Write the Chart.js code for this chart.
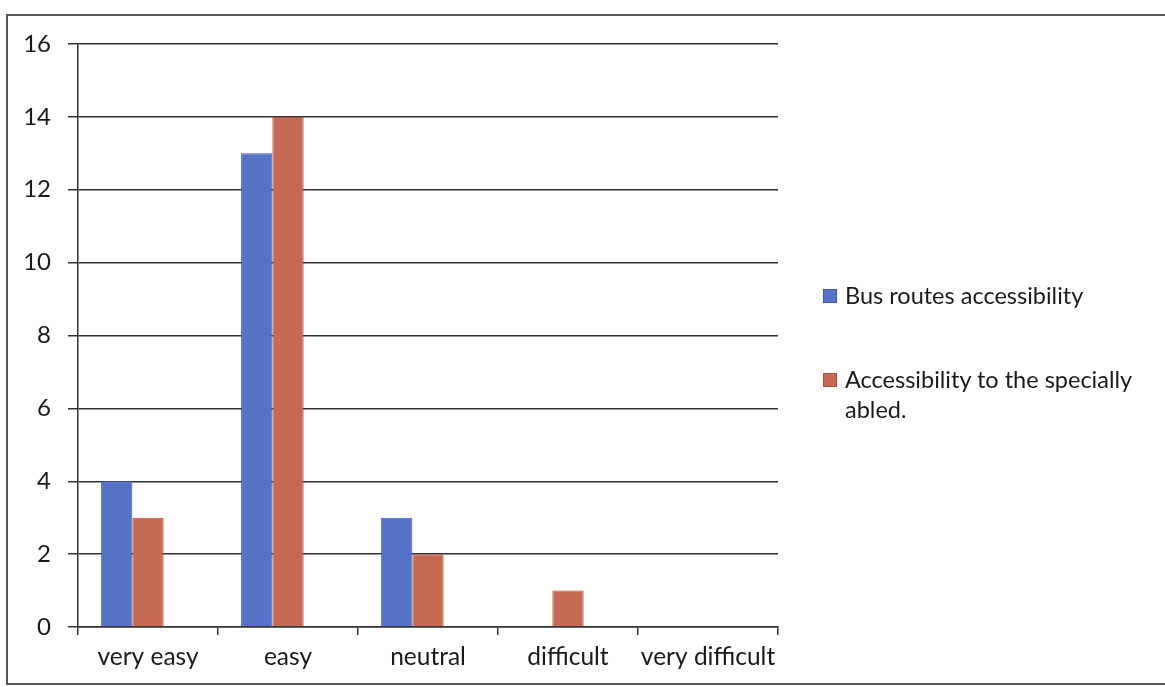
<!DOCTYPE html>
<html><head><meta charset="utf-8">
<script src="https://cdn.jsdelivr.net/npm/chart.js@4"></script>
<style>
html,body{margin:0;padding:0;background:#fff;width:1165px;height:687px;overflow:hidden;font-family:Lato,"Open Sans",sans-serif;}
#wrap{position:absolute;left:0;top:0;width:1165px;height:687px;}
#frame{position:absolute;left:6px;top:14px;width:1170px;height:667px;border:2px solid #555;pointer-events:none;}
#legend{position:absolute;left:823px;top:280px;width:318px;font-size:23.5px;color:#1a1a1a;line-height:30px;}
.item{display:flex;align-items:flex-start;margin-bottom:54px;}
.sw{width:14px;height:14px;margin-top:9px;margin-right:8px;flex:none;box-sizing:border-box;}
</style></head>
<body>
<div id="wrap"><canvas id="c" width="1165" height="687"></canvas></div>
<div id="frame"></div>
<div id="legend"></div>
<script>
const categories = ["very easy","easy","neutral","difficult","very difficult"];
const busRoutes = [4,13,3,0,0];
const speciallyAbled = [3,14,2,1,0];
const seriesNames = ["Bus routes accessibility","Accessibility to the specially abled."];
const yTicks = [0,2,4,6,8,10,12,14,16];
const colors = ["#5572c6","#c56b53"];
const borders = ["#3f5aa8","#a9523d"];

const legendEl = document.getElementById('legend');
seriesNames.forEach((n,i)=>{
  const d=document.createElement('div');d.className='item';
  d.innerHTML='<span class="sw" style="background:'+colors[i]+';border:1px solid '+borders[i]+'"></span><span>'+n+'</span>';
  legendEl.appendChild(d);
});

new Chart(document.getElementById('c'),{
  type:'bar',
  data:{labels:categories,datasets:[
    {label:seriesNames[0],data:busRoutes,backgroundColor:colors[0],borderColor:borders[0],borderWidth:1},
    {label:seriesNames[1],data:speciallyAbled,backgroundColor:colors[1],borderColor:borders[1],borderWidth:1},
    {label:'',data:[],backgroundColor:'rgba(0,0,0,0)',borderWidth:0}
  ]},
  options:{
    responsive:false,animation:false,
    layout:{padding:{left:0,right:387,top:44,bottom:0}},
    plugins:{legend:{display:false},tooltip:{enabled:false}},
    datasets:{bar:{categoryPercentage:0.67,barPercentage:1}},
    scales:{
      x:{
        afterFit:s=>{s.height=60;},
        grid:{offset:true,drawOnChartArea:false,drawTicks:true,tickLength:8,color:'#333',lineWidth:1.5},
        border:{display:true,color:'#333',width:1.5},
        ticks:{color:'#1a1a1a',font:{family:'Lato',size:24.5},padding:7,maxRotation:0}
      },
      y:{
        min:0,max:16,
        afterFit:s=>{s.width=78;},
        afterBuildTicks:s=>{s.ticks=yTicks.map(v=>({value:v}));},
        grid:{color:'#333',lineWidth:1.5,tickLength:10},
        border:{display:true,color:'#333',width:1.5},
        ticks:{color:'#1a1a1a',font:{family:'Lato',size:24},padding:17}
      }
    }
  }
});
</script>
</body></html>
